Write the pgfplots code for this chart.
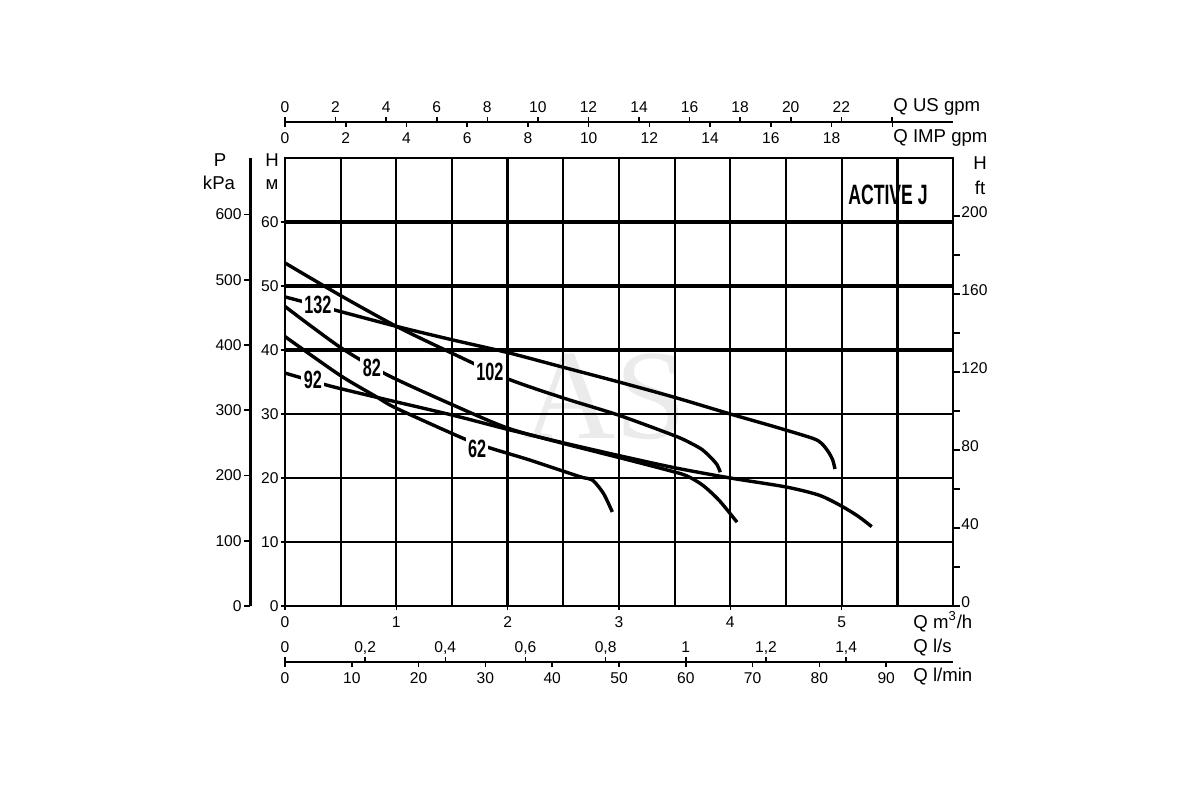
\documentclass[border=0pt]{standalone}
\usepackage{fontspec}
\setmainfont{Liberation Sans}
\newfontfamily\wmfont{Liberation Serif}
\usepackage{graphicx}
\usepackage{pgfplots}
\pgfplotsset{compat=1.18}
\pgfplotsset{
  /pgf/number format/assume math mode=true,
  every axis/.append style={
    scale only axis,
    tick label style={font=\fontsize{7.8}{8}\selectfont},
    tick style={black, line width=0.8pt},
  },
  lineaxis/.style={
    anchor=south west, width=334pt, height=10pt,
    ymin=0, ymax=1, axis y line=none,
    x axis line style={-, black, line width=1pt},
    tick align=outside, major tick length=2.5pt,
    xticklabel style={text height=1.45ex, text depth=0.3ex, inner sep=0.6pt},
  },
  curve/.style={black, line width=1.7pt, smooth, tension=0.45},
}
\newcommand{\clab}[1]{\fontsize{12.5}{12.5}\bfseries\selectfont\scalebox{0.65}[1]{#1}}
\begin{document}
\begin{tikzpicture}
% watermark
\node[text=black!8, font=\wmfont\fontsize{64}{64}\selectfont, inner sep=0] at (302.5pt,201.5pt) {AS};

% kPa axis
\begin{axis}[
  at={(125pt,97pt)}, anchor=south west, width=10pt, height=224pt,
  xmin=0, xmax=1, ymin=0, ymax=686.7,
  hide x axis, axis y line*=left,
  y axis line style={-, black, line width=1.5pt},
  ytick={0,100,...,600}, tick align=outside, major tick length=3pt,
  yticklabel style={inner sep=1pt},
]
\end{axis}

% ft axis
\begin{axis}[
  at={(142.5pt,97pt)}, anchor=south west, width=334pt, height=224pt,
  xmin=0, xmax=6, ymin=0, ymax=229.66,
  hide x axis, axis y line*=right,
  y axis line style={-, black, line width=0.7pt},
  ytick={0,40,...,200}, minor ytick={20,60,...,180},
  tick align=outside, major tick length=3.5pt, minor tick length=3.5pt,
  minor tick style={black, line width=0.8pt},
  yticklabel style={inner sep=0.5pt, yshift=2pt},
]
\end{axis}

% main axis
\begin{axis}[
  at={(142.5pt,97pt)}, anchor=south west, width=334pt, height=224pt,
  xmin=0, xmax=6, ymin=0, ymax=70,
  xtick={0,1,2,3,4,5}, ytick={0,10,...,60},
  minor xtick={0.5,1.5,2.5,3.5,4.5,5.5},
  xtick pos=bottom, ytick pos=left,
  grid=both,
  major grid style={black, line width=1pt},
  minor grid style={black, line width=1pt},
  axis line style={black, line width=0.7pt},
  tick align=outside, major tick length=2pt, minor tick length=0pt,
  extra x ticks={2,5.5}, extra x tick labels={},
  extra x tick style={grid=major, major grid style={black, line width=1.6pt}, major tick length=0pt},
  extra y ticks={40,50,60}, extra y tick labels={},
  extra y tick style={grid=major, major grid style={black, line width=1.6pt}, major tick length=0pt},
  yticklabel style={inner sep=1pt},
  clip=false,
]
% 132
\addplot[curve] coordinates {(0,48.3) (0.5,46.0) (1,43.7) (1.5,41.6) (2,39.6) (2.5,37.3) (3,35.0) (3.5,32.6) (4,30.0) (4.4,28.0) (4.74,26.2) (4.82,25.4) (4.88,24.1) (4.92,22.8) (4.94,21.4)};
% 102
\addplot[curve] coordinates {(0,53.6) (0.5,48.5) (1,43.7) (1.5,39.5) (2,35.5) (2.5,32.5) (3,29.8) (3.5,26.6) (3.65,25.4) (3.75,24.4) (3.83,23.1) (3.88,22.1) (3.91,20.9)};
% 82
\addplot[curve] coordinates {(0,46.8) (0.49,40.5) (0.92,36.1) (1.51,31.4) (2,27.8) (2.5,25.4) (3,23.2) (3.4,21.4) (3.6,20.4) (3.75,18.9) (3.9,16.5) (4.06,13.1)};
% 92
\addplot[curve] coordinates {(0,36.4) (0.4,34.4) (0.85,32.5) (1.51,29.8) (2,27.6) (2.5,25.5) (3,23.5) (3.5,21.6) (4,20.0) (4.5,18.6) (4.8,17.3) (5.0,15.6) (5.15,14.0) (5.27,12.4)};
% 62
\addplot[curve] coordinates {(0,42.1) (0.49,36.1) (0.82,32.7) (1,30.9) (1.6,26.2) (1.84,24.7) (2.2,22.8) (2.65,20.2) (2.76,19.7) (2.86,17.6) (2.94,14.7)};

\node[fill=white, inner sep=1.2pt] at (axis cs:0.296,47.0) {\clab{132}};
\node[fill=white, inner sep=1.2pt] at (axis cs:1.84,36.6) {\clab{102}};
\node[fill=white, inner sep=1.2pt] at (axis cs:0.78,37.2) {\clab{82}};
\node[fill=white, inner sep=1.2pt] at (axis cs:0.25,35.3) {\clab{92}};
\node[fill=white, inner sep=1.2pt] at (axis cs:1.725,24.6) {\clab{62}};
\end{axis}

% top: US gpm
\begin{axis}[lineaxis, at={(142.5pt,329pt)}, xmin=0, xmax=26.417,
  axis x line*=top, xtick={0,2,...,22}, extra x ticks={24}, extra x tick labels={}]
\end{axis}
% top: IMP gpm
\begin{axis}[lineaxis, at={(142.5pt,339pt)}, xmin=0, xmax=21.997,
  axis x line*=bottom, xtick={0,2,...,18}, extra x ticks={20}, extra x tick labels={}]
\end{axis}
% bottom: l/s
\begin{axis}[lineaxis, at={(142.5pt,59pt)}, xmin=0, xmax=1.6667,
  axis x line*=top, xtick={0,0.2,0.4,0.6,0.8,1,1.2,1.4},
  /pgf/number format/use comma]
\end{axis}
% bottom: l/min
\begin{axis}[lineaxis, at={(142.5pt,69pt)}, xmin=0, xmax=100,
  axis x line*=bottom, xtick={0,10,...,90}]
\end{axis}

% labels
\begin{scope}[every node/.style={font=\fontsize{9.3}{10}\selectfont, inner sep=0}]
\node[anchor=west] at (446.5pt,346.5pt) {Q US gpm};
\node[anchor=west] at (446.5pt,331pt) {Q IMP gpm};
\node[anchor=west] at (456.5pt,89pt) {Q m\textsuperscript{3}/h};
\node[anchor=west] at (456.5pt,76pt) {Q l/s};
\node[anchor=west] at (456.5pt,61.5pt) {Q l/min};
\node at (110pt,320pt) {P};
\node at (109.5pt,308.5pt) {kPa};
\node at (136pt,320pt) {H};
\node at (136pt,307.5pt) {м};
\node at (490pt,318.5pt) {H};
\node at (490pt,306pt) {ft};
\end{scope}
\node[inner sep=0, font=\fontsize{14}{14}\bfseries\selectfont] at (444pt,302.5pt) {\scalebox{0.63}[1]{ACTIVE J}};

\pgfresetboundingbox
\path[use as bounding box] (0pt,0pt) rectangle (600pt,400pt);
\end{tikzpicture}
\end{document}
